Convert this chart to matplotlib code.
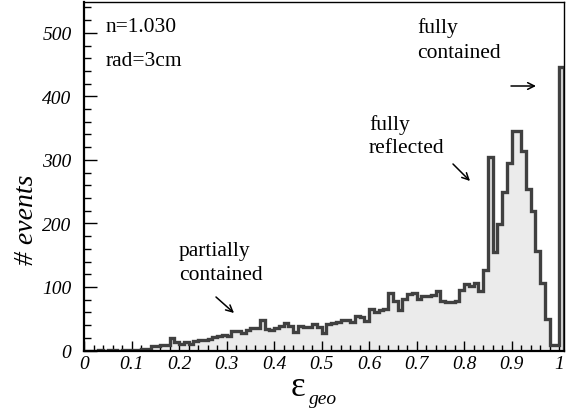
import numpy as np
import matplotlib
matplotlib.use("Agg")
import matplotlib.pyplot as plt
from matplotlib.ticker import MultipleLocator, FuncFormatter

# ---- data: counts per bin of width 0.01 from 0 to 1.01 ----
bin_width = 0.01
counts = [
    0, 0, 0, 1, 0, 1, 1, 0, 1, 1,            # 0.00-0.09
    1, 1, 2, 3, 7, 7, 8, 9, 19, 14,          # 0.10-0.19
    10, 13, 11, 15, 16, 17, 18, 22, 23, 24,  # 0.20-0.29
    23, 31, 30, 28, 33, 36, 35, 48, 34, 33,  # 0.30-0.39
    36, 39, 43, 38, 29, 39, 37, 37, 42, 37,  # 0.40-0.49
    27, 42, 44, 45, 48, 48, 45, 54, 53, 47,  # 0.50-0.59
    66, 60, 64, 65, 91, 78, 64, 81, 89, 90,  # 0.60-0.69
    81, 85, 86, 88, 94, 78, 77, 77, 78, 96,  # 0.70-0.79
    104, 101, 107, 93, 126, 304, 155, 199, 250, 295,  # 0.80-0.89
    345, 345, 314, 254, 220, 157, 107, 50, 9, 9,      # 0.90-0.99
    447,                                      # 1.00-1.01
]
edges = np.round(np.arange(len(counts) + 1) * bin_width, 4)

x_ticks = [0, 0.1, 0.2, 0.3, 0.4, 0.5, 0.6, 0.7, 0.8, 0.9, 1.0]
y_ticks = [0, 100, 200, 300, 400, 500]

labels_info = ["n=1.030", "rad=3cm"]

serif = "Liberation Serif"
plt.rcParams["font.family"] = [serif, "DejaVu Serif"]
plt.rcParams["font.style"] = "italic"   # tick labels italic

# ---- figure ----
W, H = 575, 410
fig = plt.figure(figsize=(W / 100, H / 100), dpi=100)
ax_l, ax_r, ax_t, ax_b = 84, 564, 2.7, 351.5
ax = fig.add_axes([ax_l / W, 1 - ax_b / H, (ax_r - ax_l) / W, (ax_b - ax_t) / H])

ax.stairs(counts, edges, fill=True, color="#ebebeb", zorder=1)
ax.stairs(counts, edges, color="#404040", lw=2.4, zorder=2)

ax.set_xlim(0, 1.01)
ax.set_ylim(0, 549)

ax.set_xticks(x_ticks)
ax.set_yticks(y_ticks)
ax.xaxis.set_minor_locator(MultipleLocator(0.02))
ax.yaxis.set_minor_locator(MultipleLocator(20))
ax.xaxis.set_major_formatter(FuncFormatter(lambda v, p: f"{v:g}"))
ax.tick_params(which="both", direction="in", top=False, right=False, color="black",
               labelsize=14)
ax.tick_params(axis="x", which="major", length=7, width=1, pad=3)
ax.tick_params(axis="x", which="minor", length=4, width=1)
ax.tick_params(axis="y", which="major", length=9, width=1, pad=9)
ax.tick_params(axis="y", which="minor", length=5, width=1)

for s in ["left", "bottom"]:
    ax.spines[s].set_linewidth(1.6)
for s in ["top", "right"]:
    ax.spines[s].set_linewidth(1.0)

def px2data(px, py):
    return (px - ax_l) / (ax_r - ax_l) * 1.01, (ax_b - py) / (ax_b - ax_t) * 549

tfs = 15.5
def put(px, py, s):
    x, y = px2data(px, py)
    ax.text(x, y, s, fontsize=tfs, style="normal", ha="left", va="center", zorder=5)

put(106, 28, labels_info[0])
put(106, 62, labels_info[1])
put(179, 252, "partially")
put(179, 276, "contained")
put(369, 125, "fully")
put(369, 149, "reflected")
put(417, 28, "fully")
put(417, 53, "contained")

def arrow(p0, p1):
    ax.annotate("", xy=px2data(*p1), xytext=px2data(*p0),
                arrowprops=dict(arrowstyle="->", lw=1.1, color="black",
                                mutation_scale=12, shrinkA=0, shrinkB=0), zorder=5)

arrow((216, 298), (234, 314))
arrow((453, 165), (470, 182))
arrow((511, 87), (536, 87))

# axis titles
fig.text(27 / W, 1 - 220 / H, "# events", style="italic",
         fontsize=20, rotation=90, ha="center", va="center")
fig.text(291 / W, 1 - 396 / H, "ε", style="normal", fontsize=25, ha="left", va="baseline")
fig.text(309 / W, 1 - 404 / H, "geo", style="italic", fontsize=14,
         ha="left", va="baseline")

fig.savefig("out.png", dpi=100)
